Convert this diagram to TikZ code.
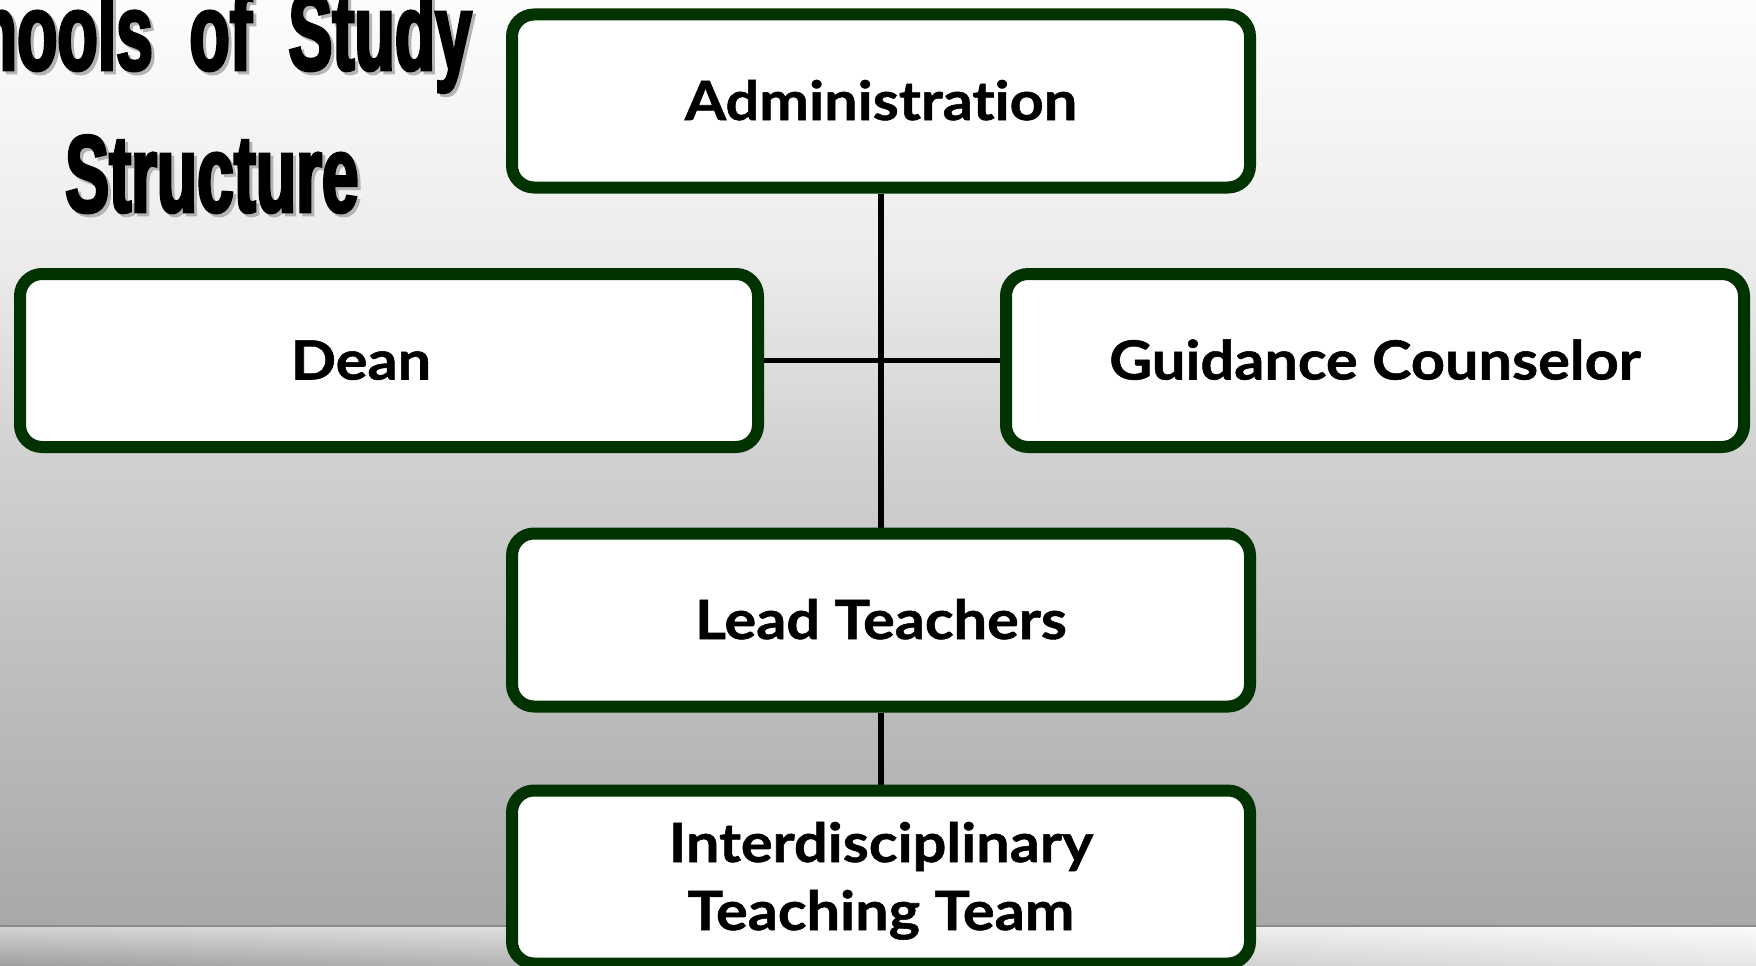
\documentclass[tikz,border=0pt]{standalone}
\usepackage{fontspec}
\setmainfont{Lato}
\newfontfamily\boxfont{Lato}[UprightFont={* Bold}, FakeStretch=1.1, FakeBold=1, RawFeature={-liga;-dlig}]
\newfontfamily\titlefont{Liberation Sans}[UprightFont={* Bold}, FakeStretch=0.6, FakeBold=2.5, WordSpace=2.0]
\usetikzlibrary{backgrounds,shadings}
\definecolor{boxgreen}{HTML}{003300}
\definecolor{bgA}{gray}{0.99}
\definecolor{bgB}{gray}{0.92}
\definecolor{bgC}{gray}{0.82}
\definecolor{bgD}{gray}{0.66}
\definecolor{shadowgray}{HTML}{B4B4B4}
\pgfdeclareverticalshading{bgshade}{100bp}{color(0bp)=(bgD); color(25bp)=(bgD); color(50.5bp)=(bgC); color(60.4bp)=(bgB); color(75bp)=(bgA); color(100bp)=(bgA)}
\tikzset{
  orgbox/.style={draw=boxgreen, line width=12pt, fill=white, rounded corners=22pt,
    minimum width=738pt, minimum height=173pt, inner sep=0pt, align=center,
    font=\boxfont\fontsize{54}{68}\selectfont, text height=38pt, text depth=0pt},
  conn/.style={draw=black, line width=5.5pt},
  titletext/.style={inner sep=0pt, font=\titlefont\fontsize{110}{110}\selectfont},
}
\begin{document}
\begin{tikzpicture}[x=1pt,y=-1pt]
\useasboundingbox (0,0) rectangle (1756,966);
% boxes
\node[orgbox] (admin) at (881,101) {Administration};
\node[orgbox] (dean) at (389,360.5) {Dean\hspace{56pt}};
\node[orgbox] (guid) at (1375,360.5) {Guidance Counselor};
\node[orgbox] (lead) at (881,620) {Lead Teachers};
\node[orgbox, text height=106pt, text depth=-10pt] (inter) at (881,877) {Interdisciplinary\\Teaching Team};
% title
\node[titletext, text=shadowgray, anchor=base east] (t1s) at (475,73) {Schools of Study};
\node[titletext, anchor=base east] (t1) at (472,70) {Schools of Study};
\node[titletext, text=shadowgray, anchor=base west] (t2s) at (68,215) {Structure};
\node[titletext, anchor=base west] (t2) at (65,212) {Structure};
\begin{scope}[on background layer]
  \shade[shading=bgshade] (0,0) rectangle (1756,926);
  \shade[upper left=black!17, lower left=black!38, upper right=black!2, lower right=black!10] (0,926) rectangle (1756,966);
  \draw[black!45, line width=1.2pt] (0,926) -- (1756,926);
  \draw[conn] (admin.south) -- (lead.north);
  \draw[conn] (dean.east) -- (guid.west);
  \draw[conn] (lead.south) -- (inter.north);
\end{scope}
\end{tikzpicture}
\end{document}
